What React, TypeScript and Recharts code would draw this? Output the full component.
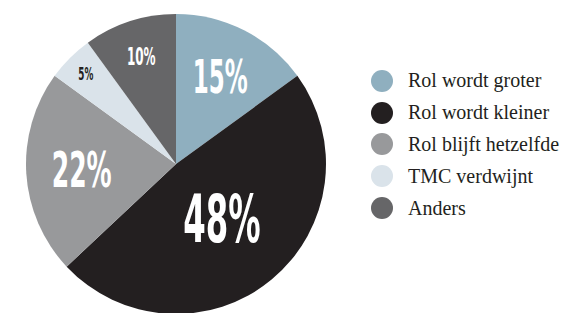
import { PieChart, Pie, Cell, Legend } from "recharts";

const categories = ["Rol wordt groter", "Rol wordt kleiner", "Rol blijft hetzelfde", "TMC verdwijnt", "Anders"];
const values = [15, 48, 22, 5, 10];

const COLORS = ["#8fafbf", "#231f20", "#98999b", "#dae3ea", "#666668"];
const LABEL_COLORS = ["#ffffff", "#ffffff", "#ffffff", "#231f20", "#ffffff"];
// label radius (fraction of outer radius) and font size per slice
const LABEL_R = [0.65, 0.48, 0.63, 0.85, 0.75];
const LABEL_SIZE = [44, 62, 48, 17, 23];

const data = categories.map((name, i) => ({ name, value: values[i] }));

const RAD = Math.PI / 180;

const renderLabel = (props: any) => {
  const { cx, cy, midAngle, outerRadius, index, value } = props;
  const r = outerRadius * LABEL_R[index];
  const x = cx + r * Math.cos(-midAngle * RAD);
  const y = cy + r * Math.sin(-midAngle * RAD);
  return (
    <text
      transform={`translate(${x},${y}) scale(0.58,1.05)`}
      textAnchor="middle"
      dominantBaseline="central"
      fill={LABEL_COLORS[index]}
      fontFamily="'DejaVu Sans Condensed', 'DejaVu Sans'"
      fontWeight="bold"
      fontSize={LABEL_SIZE[index]}
    >
      {`${value}%`}
    </text>
  );
};

const renderLegend = () => (
  <div style={{ display: "flex", flexDirection: "column" }}>
    {categories.map((name, i) => (
      <div key={name} style={{ display: "flex", alignItems: "center", height: 31.8 }}>
        <span
          style={{
            width: 22,
            height: 22,
            borderRadius: "50%",
            background: COLORS[i],
            display: "inline-block",
            marginRight: 15,
          }}
        />
        <span
          style={{
            fontFamily: "'Liberation Serif', serif",
            fontSize: 20,
            color: "#231f20",
          }}
        >
          {name}
        </span>
      </div>
    ))}
  </div>
);

export default function App() {
  return (
    <div style={{ position: "absolute", left: 0, top: 0, width: 566, height: 313, background: "#fff" }}>
      <PieChart width={566} height={313} margin={{ top: 0, right: 0, bottom: 0, left: 0 }}>
        <Pie
          data={data}
          dataKey="value"
          nameKey="name"
          cx={176}
          cy={164}
          outerRadius={150}
          startAngle={90}
          endAngle={-270}
          stroke="none"
          label={renderLabel}
          labelLine={false}
          isAnimationActive={false}
        >
          {data.map((_, i) => (
            <Cell key={`cell-${i}`} fill={COLORS[i]} />
          ))}
        </Pie>
        <Legend
          content={renderLegend}
          layout="vertical"
          wrapperStyle={{ position: "absolute", left: 371, top: 65, width: 195 }}
        />
      </PieChart>
    </div>
  );
}
